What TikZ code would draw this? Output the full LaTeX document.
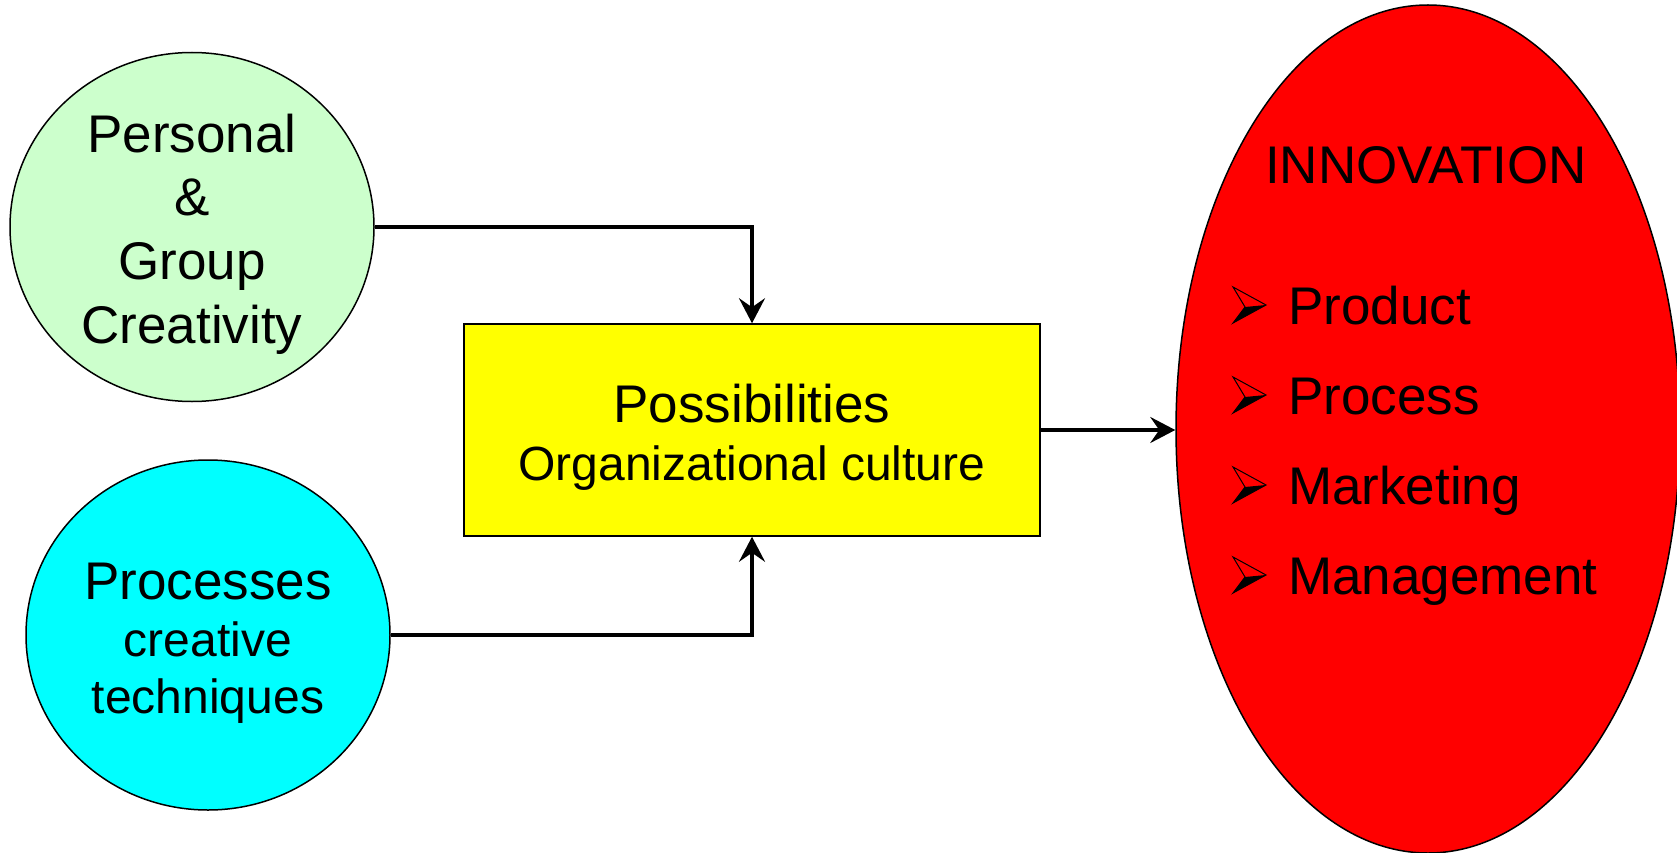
\documentclass[tikz,border=0pt]{standalone}
\usepackage{fontspec}
\setmainfont{Liberation Sans}
\usetikzlibrary{shapes.geometric,arrows.meta}
\definecolor{paleGreen}{HTML}{CCFFCC}
\definecolor{aqua}{HTML}{00FFFF}
\definecolor{lemon}{HTML}{FFFF00}
\definecolor{signalRed}{HTML}{FF0000}
\tikzset{
  blob/.style={ellipse, draw=black, line width=1.5pt, inner sep=0pt},
  panel/.style={rectangle, draw=black, line width=1.5pt, inner sep=0pt},
  big/.style={font=\fontsize{53}{64}\selectfont, inner sep=0pt},
  mid/.style={font=\fontsize{48}{57}\selectfont, inner sep=0pt},
  conn/.style={line width=3.6pt, -{Stealth[length=25pt,width=26pt,inset=9pt]}},
  % three-dimensional arrowhead bullet, origin at its left middle
  bul/.pic={
    \fill[black] (0,18) -- (12,2) -- (33,0) -- cycle;
    \draw[line width=1pt, line join=miter] (0,-18) -- (33,0) -- (0,18) -- (12,2) -- cycle;
  }
}
\begin{document}
\begin{tikzpicture}[x=1pt,y=-1pt]
\useasboundingbox (0,0) rectangle (1677,853);
\clip (0,0) rectangle (1677,853);

% source circles
\node[blob, fill=paleGreen, minimum width=364pt, minimum height=349pt] (pc) at (192,227) {};
\node[blob, fill=aqua, minimum width=364pt, minimum height=350pt] (proc) at (208,635) {};

% central box
\node[panel, fill=lemon, minimum width=576pt, minimum height=212pt] (box) at (752,430) {};

% outcome ellipse
\node[blob, fill=signalRed, minimum width=504pt, minimum height=848pt] (innov) at (1428,429) {};

% texts of the left circles
\node[big, anchor=base] (t1) at (192,153) {Personal};
\node[big, anchor=base] (t2) at (192,215) {\&};
\node[big, anchor=base] (t3) at (192,279) {Group};
\node[big, anchor=base] (t4) at (192,343) {Creativity};

\node[big, anchor=base] (p1) at (208,599) {Processes};
\node[mid, anchor=base] (p2) at (208,656) {creative};
\node[mid, anchor=base] (p3) at (208,713) {techniques};

% box texts
\node[big, anchor=base] (b1) at (752,422) {Possibilities};
\node[mid, anchor=base] (b2) at (752,480) {Organizational culture};

% innovation list
\node[font=\fontsize{53}{62}\selectfont, inner sep=0pt, anchor=base] (i0) at (1426,184) {INNOVATION};
\pic at (1233,305) {bul};
\pic at (1233,395) {bul};
\pic at (1233,485) {bul};
\pic at (1233,575) {bul};
\node[big, anchor=base west] (i1) at (1288,324) {Product};
\node[big, anchor=base west] (i2) at (1288,414) {Process};
\node[big, anchor=base west] (i3) at (1288,504) {Marketing};
\node[big, anchor=base west] (i4) at (1288,594) {Management};

% connectors
\draw[conn] (pc.east) -| (box.north);
\draw[conn] (proc.east) -| (box.south);
\draw[conn] (box.east) -- (innov.west |- box.east);
\end{tikzpicture}
\end{document}
